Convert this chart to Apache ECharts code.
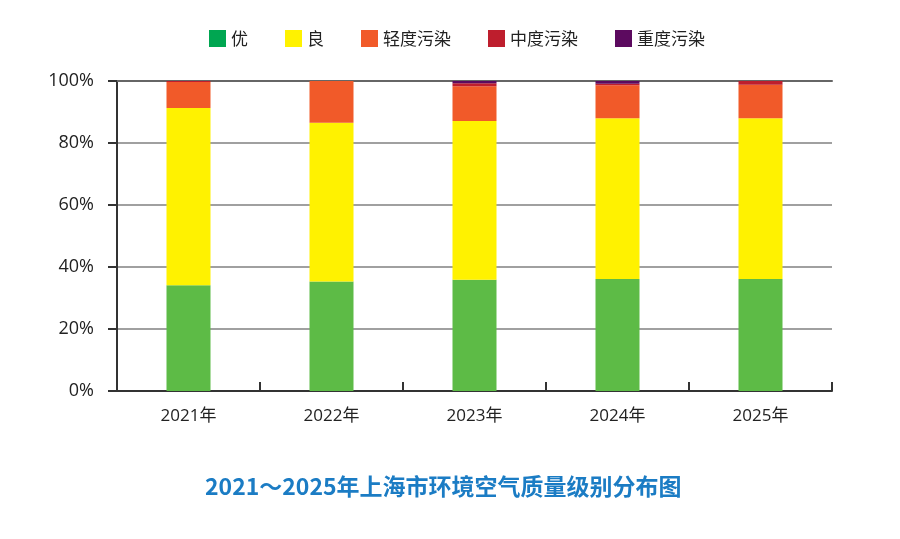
<!DOCTYPE html>
<html>
<head>
<meta charset="utf-8">
<script src="https://cdn.jsdelivr.net/npm/echarts@6/dist/echarts.min.js"></script>
<style>
  html, body { margin: 0; padding: 0; background: #fff; }
  #chart { width: 900px; height: 539px; }
</style>
</head>
<body>
<div id="chart"></div>
<script>
// 2021~2025 上海市环境空气质量级别分布 (%)
const years = ['2021年', '2022年', '2023年', '2024年', '2025年'];
const you = [34.1, 35.3, 35.9, 36.1, 36.1];
const liang = [57.2, 51.2, 51.2, 51.9, 51.9];
const qingdu = [8.4, 13.5, 11.2, 10.6, 10.8];
const zhongdu = [0.3, 0, 1.0, 0.5, 1.2];
const zhongdu2 = [0, 0, 0.7, 0.9, 0];

const seriesNames = ['优', '良', '轻度污染', '中度污染', '重度污染'];
const barColors = ['#5dbb46', '#fff200', '#f15a29', '#be1e2d', '#5c0a5f'];
const legendColors = ['#00a651', '#fff200', '#f15a29', '#be1e2d', '#5c0a5f'];
const values = [you, liang, qingdu, zhongdu, zhongdu2];

const font = '"Open Sans", "Noto Sans CJK SC", sans-serif';
const cjk = '"Noto Sans CJK SC", sans-serif';

const chart = echarts.init(document.getElementById('chart'));

chart.setOption({
    animation: false,
    textStyle: { fontFamily: font },
    legend: {
        top: 30,
        left: 209,
        padding: 0,
        itemWidth: 17,
        itemHeight: 17,
        itemGap: 37,
        icon: 'rect',
        textStyle: { fontSize: 17, color: '#222', fontFamily: cjk },
        data: seriesNames.map((n, i) => ({ name: n, itemStyle: { color: legendColors[i] } }))
    },
    grid: {
        left: 117,
        right: 68,
        top: 81,
        bottom: 148,
        containLabel: false
    },
    xAxis: [{
        type: 'category',
        data: years,
        axisLine: { lineStyle: { color: '#333', width: 2 } },
        axisTick: { show: true, length: 9, inside: true, lineStyle: { color: '#333', width: 2 } },
        axisLabel: { fontSize: 17, color: '#222', margin: 17, fontFamily: font }
    }, {
        type: 'category',
        position: 'top',
        data: years,
        axisLine: { show: true, lineStyle: { color: '#666', width: 2 } },
        axisTick: { show: false },
        axisLabel: { show: false }
    }],
    yAxis: {
        type: 'value',
        min: 0,
        max: 100,
        interval: 20,
        axisLine: { show: true, lineStyle: { color: '#333', width: 2 } },
        axisTick: { show: true, length: 9, lineStyle: { color: '#333', width: 2 } },
        axisLabel: { formatter: '{value}%', fontSize: 18, color: '#222', margin: 23, fontFamily: font },
        splitLine: { lineStyle: { color: '#a0a0a0', width: 2 } }
    },
    series: values.map((v, i) => ({
        name: seriesNames[i],
        type: 'bar',
        stack: 'total',
        barWidth: 44,
        data: v,
        itemStyle: { color: barColors[i] }
    })),
    graphic: [{
        type: 'text',
        left: 205,
        top: 475,
        style: {
            text: '2021～2025年上海市环境空气质量级别分布图',
            fontSize: 23,
            fontWeight: 'bold',
            fill: '#1b7cc4',
            fontFamily: cjk
        }
    }]
});
</script>
</body>
</html>
